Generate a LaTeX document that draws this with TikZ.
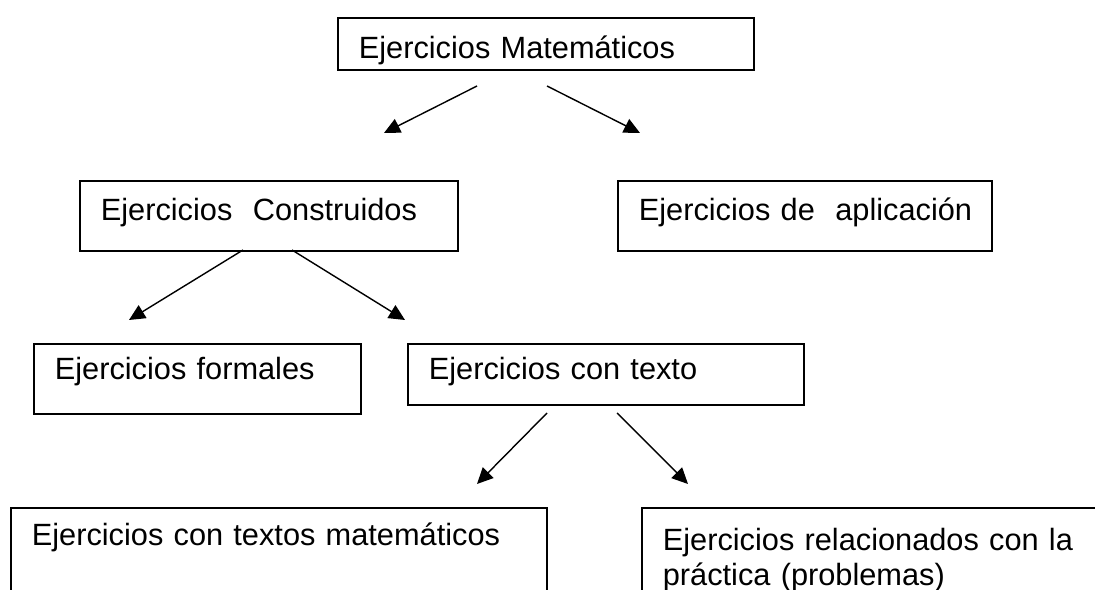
\documentclass[tikz,border=0pt]{standalone}
\usepackage{fontspec}
\setmainfont{Liberation Sans}
\usetikzlibrary{arrows.meta}

\begin{document}
\begin{tikzpicture}[x=0.02cm, y=-0.02cm,
    caja/.style={draw, line width=1pt, anchor=north west, align=left, inner xsep=0.42cm, inner ysep=0pt, font=\fontsize{17.5}{19.9}\selectfont},
    flecha/.style={-{Triangle[length=0.32cm, width=0.3cm]}, line width=0.8pt}]
    \useasboundingbox (0, 0) rectangle (1095, 590);
    \clip (0, 0) rectangle (1095, 590);

    \node[caja, text width=7.48cm, text height=0.82cm, text depth=0.22cm](mat) at (337, 17){Ejercicios Matemáticos};
    \node[caja, text width=6.72cm, text height=0.8cm, text depth=0.6cm](cons) at (79, 180){\mbox{Ejercicios\ \ Construidos}};
    \node[caja, text width=6.64cm, text height=0.8cm, text depth=0.6cm](apl) at (617, 180){\mbox{Ejercicios de\ \ aplicación}};
    \node[caja, text width=5.7cm, text height=0.72cm, text depth=0.68cm](form) at (33, 343){Ejercicios formales};
    \node[caja, text width=7.08cm, text height=0.72cm, text depth=0.5cm](tex) at (407, 343){Ejercicios con texto};
    \node[caja, text width=9.88cm, text height=0.76cm, text depth=1.5cm](tmat) at (10, 507){Ejercicios con textos matemáticos};
    \node[caja, text width=8.64cm, text height=0.86cm, text depth=1.4cm](prac) at (641, 507){Ejercicios relacionados con la\\práctica (problemas)};

    \coordinate (m1) at (477, 86);
    \coordinate (m2) at (547, 86);
    \coordinate (c1) at (384, 133);
    \coordinate (a1) at (640, 133);
    \draw[flecha](m1)--(c1);
    \draw[flecha](m2)--(a1);

    \coordinate (c2) at (243, 250);
    \coordinate (c3) at (292, 250);
    \coordinate (f1) at (129, 320);
    \coordinate (t1) at (405, 320);
    \draw[flecha](c2)--(f1);
    \draw[flecha](c3)--(t1);

    \coordinate (t2) at (547, 413);
    \coordinate (t3) at (617, 413);
    \coordinate (tm1) at (477, 484);
    \coordinate (p1) at (688, 484);
    \draw[flecha](t2)--(tm1);
    \draw[flecha](t3)--(p1);
\end{tikzpicture}
\end{document}
